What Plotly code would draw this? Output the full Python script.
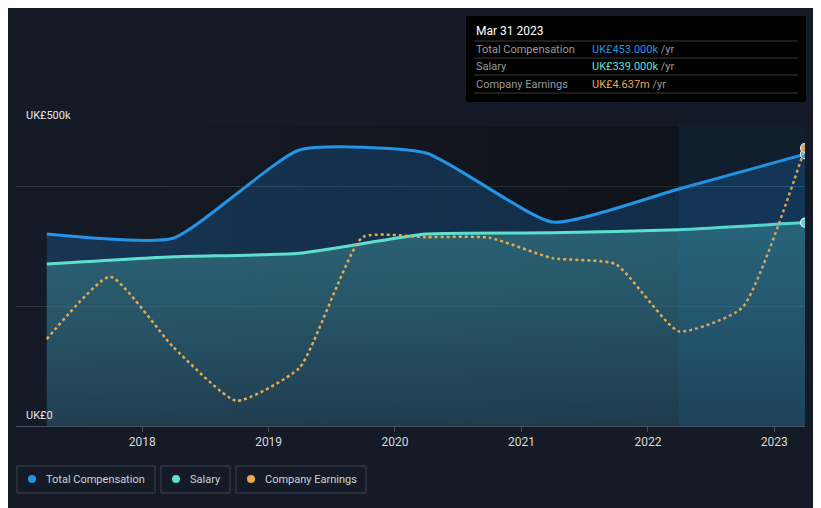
import plotly.graph_objects as go

# ---------------- data ----------------
comp_dates = ["2017-03-31", "2018-03-31", "2019-03-31", "2020-03-31",
              "2021-03-31", "2022-03-31", "2023-03-31"]
total_comp = [320000, 313000, 460000, 455000, 340000, 395000, 453000]
salary = [270000, 282000, 288000, 320000, 322000, 327000, 339000]

earn_dates = ["2017-03-31", "2017-09-30", "2018-03-31", "2018-09-30",
              "2019-03-31", "2019-09-30", "2020-03-31", "2020-09-30",
              "2021-03-31", "2021-09-30", "2022-03-31", "2022-09-30",
              "2023-03-31"]
earnings_m = [1.45, 2.49, 1.32, 0.42, 0.97, 3.15, 3.15, 3.14,
              2.80, 2.70, 1.58, 1.97, 4.637]

year_ticks = ["2018-01-01", "2019-01-01", "2020-01-01", "2021-01-01",
              "2022-01-01", "2023-01-01"]
year_labels = ["2018", "2019", "2020", "2021", "2022", "2023"]
y_grid = [0, 200000, 400000, 500000]

tooltip_title = "Mar 31 2023"
tooltip_rows = [("Total Compensation", "UK£453.000k", "#2394e6"),
                ("Salary", "UK£339.000k", "#5fe0cf"),
                ("Company Earnings", "UK£4.637m", "#e8a850")]

BG = "#151b26"
BLUE = "#2394e6"
TEAL = "#5fe0cf"
ORANGE = "#e8a850"
FONT = "Roboto"

# pixel helpers for paper coordinates (plot area 16..805 x, 126..426 y in the window)
def px(x):
    return (x - 16) / 789.0

def py(y):
    return (426 - y) / 300.0

fig = go.Figure()

# subtle darkening of plot background toward the right
fig.add_trace(go.Scatter(
    x=[comp_dates[0], comp_dates[5], comp_dates[5], comp_dates[0], comp_dates[0]],
    y=[0, 0, 500000, 500000, 0],
    mode="lines", line=dict(width=0), fill="toself",
    fillgradient=dict(type="horizontal",
                      colorscale=[[0, "rgba(0,0,0,0)"], [1, "rgba(0,0,0,0.32)"]]),
    hoverinfo="skip", showlegend=False))

# total compensation
fig.add_trace(go.Scatter(
    x=comp_dates, y=total_comp, mode="lines",
    line=dict(color=BLUE, width=3, shape="spline", smoothing=0.5),
    fill="tozeroy", fillcolor="rgba(33,140,235,0.22)",
    hoverinfo="skip", showlegend=False))

# salary
fig.add_trace(go.Scatter(
    x=comp_dates, y=salary, mode="lines",
    line=dict(color=TEAL, width=3, shape="spline", smoothing=0.5),
    fill="tozeroy",
    fillgradient=dict(type="vertical",
                      colorscale=[[0, "rgba(40,70,80,0.55)"], [1, "rgba(70,160,165,0.45)"]]),
    hoverinfo="skip", showlegend=False))

# company earnings (secondary hidden scale)
fig.add_trace(go.Scatter(
    x=earn_dates, y=earnings_m, mode="lines", yaxis="y2",
    line=dict(color=ORANGE, width=2.5, dash="dot", shape="spline", smoothing=0.5),
    hoverinfo="skip", showlegend=False))

# end markers
fig.add_trace(go.Scatter(
    x=[comp_dates[-1]], y=[total_comp[-1]], mode="markers",
    marker=dict(color=BLUE, size=9, line=dict(color="white", width=1.2)),
    hoverinfo="skip", showlegend=False))
fig.add_trace(go.Scatter(
    x=[comp_dates[-1]], y=[salary[-1]], mode="markers",
    marker=dict(color=TEAL, size=9, line=dict(color="white", width=1.2)),
    hoverinfo="skip", showlegend=False))
fig.add_trace(go.Scatter(
    x=[earn_dates[-1]], y=[earnings_m[-1]], mode="markers", yaxis="y2",
    marker=dict(color=ORANGE, size=9, line=dict(color="white", width=1.2)),
    hoverinfo="skip", showlegend=False))

shapes = []
# highlighted last year: darken behind, light blue tint on top
shapes.append(dict(type="rect", xref="x", yref="paper",
                   x0=comp_dates[5], x1="2023-03-31", y0=0, y1=1,
                   fillcolor="rgba(0,0,0,0.25)", line=dict(width=0),
                   layer="below"))
shapes.append(dict(type="rect", xref="x", yref="paper",
                   x0=comp_dates[5], x1="2023-03-31", y0=0, y1=1,
                   fillcolor="rgba(30,130,210,0.1)", line=dict(width=0),
                   layer="above"))

# tooltip box
shapes.append(dict(type="rect", xref="paper", yref="paper",
                   x0=px(466), x1=px(806), y0=py(102), y1=py(16),
                   fillcolor="#000000", line=dict(width=0), layer="above"))
for yy in [41, 58, 75, 93]:
    shapes.append(dict(type="line", xref="paper", yref="paper",
                       x0=px(474), x1=px(798), y0=py(yy), y1=py(yy),
                       line=dict(color="#3a3a3a", width=1), layer="above"))

annotations = []
annotations.append(dict(xref="paper", yref="paper", x=px(474), y=py(31),
                        xanchor="left", yanchor="middle", showarrow=False,
                        text=tooltip_title,
                        font=dict(family=FONT, size=12, color="#ffffff")))
for i, (lab, val, col) in enumerate(tooltip_rows):
    yy = [49, 66, 84][i]
    annotations.append(dict(xref="paper", yref="paper", x=px(474), y=py(yy),
                            xanchor="left", yanchor="middle", showarrow=False,
                            text=lab,
                            font=dict(family=FONT, size=11, color="#9a9a9a")))
    annotations.append(dict(xref="paper", yref="paper", x=px(590), y=py(yy),
                            xanchor="left", yanchor="middle", showarrow=False,
                            text=f"<span style='color:{col}'>{val}</span>"
                                 f"<span style='color:#9a9a9a'> /yr</span>",
                            font=dict(family=FONT, size=11, color=col)))

# y labels
annotations.append(dict(xref="paper", yref="y", x=px(24), y=500000,
                        xanchor="left", yanchor="bottom", yshift=2, showarrow=False,
                        text="UK£500k", font=dict(family=FONT, size=11, color="#e6e6e6")))
annotations.append(dict(xref="paper", yref="y", x=px(24), y=0,
                        xanchor="left", yanchor="bottom", yshift=2, showarrow=False,
                        text="UK£0", font=dict(family=FONT, size=11, color="#e6e6e6")))

# custom legend
legend_items = [("Total Compensation", BLUE, 17, 155),
                ("Salary", TEAL, 161, 230),
                ("Company Earnings", ORANGE, 236, 366)]
for lab, col, x0, x1 in legend_items:
    shapes.append(dict(type="rect", xref="paper", yref="paper",
                       x0=px(x0), x1=px(x1), y0=py(493), y1=py(466),
                       fillcolor="rgba(0,0,0,0)",
                       line=dict(color="#3d434e", width=1), layer="above"))
    cx = x0 + 15
    shapes.append(dict(type="circle", xref="paper", yref="paper",
                       x0=px(cx - 4), x1=px(cx + 4), y0=py(483), y1=py(475),
                       fillcolor=col, line=dict(width=0), layer="above"))
    annotations.append(dict(xref="paper", yref="paper", x=px(cx + 12), y=py(479.5),
                            xanchor="left", yanchor="middle", showarrow=False,
                            text=lab, font=dict(family=FONT, size=11, color="#cfd2d6")))

# page shows the figure offset by the 8px body margin; margins compensate
fig.update_layout(
    width=821, height=508,
    margin=dict(l=8, r=24, t=118, b=90),
    paper_bgcolor=BG, plot_bgcolor="rgba(0,0,0,0)",
    font=dict(family=FONT, color="#d0d0d0"),
    showlegend=False,
    shapes=shapes, annotations=annotations,
    xaxis=dict(type="date", range=["2017-01-01", "2023-03-31"],
               tickvals=year_ticks, ticktext=year_labels,
               ticks="outside", ticklen=5, tickcolor="#4a505b",
               showgrid=False, showline=True, linecolor="#4a505b", linewidth=1,
               zeroline=False,
               tickfont=dict(family=FONT, size=12, color="#d8d8d8")),
    yaxis=dict(range=[0, 500000], tickvals=y_grid, showticklabels=False,
               showgrid=True, gridcolor="#30363f", gridwidth=1,
               zeroline=False, fixedrange=True),
    yaxis2=dict(range=[0, 5.004], overlaying="y", visible=False),
)

fig.write_html("out.html")
